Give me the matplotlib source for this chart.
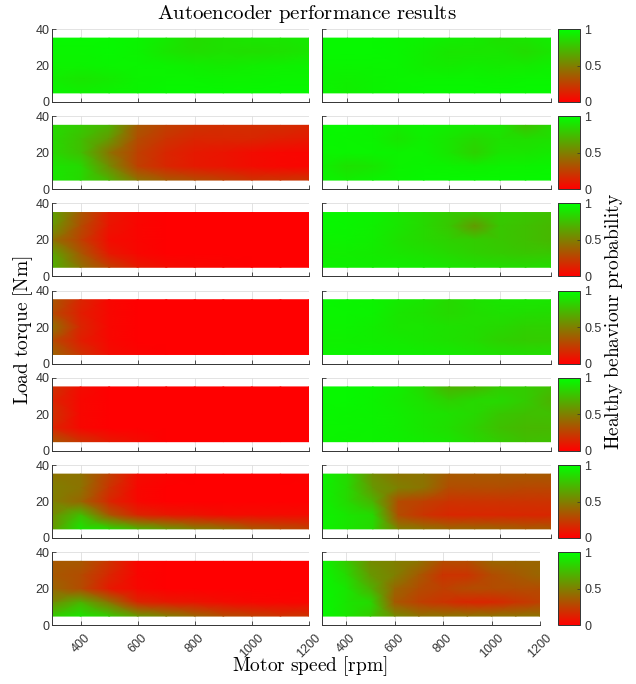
import numpy as np
import matplotlib
matplotlib.use("Agg")
import matplotlib.pyplot as plt
from matplotlib.colors import LinearSegmentedColormap

# ------------------------------------------------------------
# Autoencoder performance maps: healthy-behaviour probability
# over motor speed x load torque, 7 cases, 2 models each
# ------------------------------------------------------------

speed = [300, 400, 500, 600, 700, 800, 900, 1000, 1100, 1200]   # rpm
torque = [35, 27.5, 20, 12.5, 5]                                  # Nm, top row first

# each panel: rows follow `torque`, columns follow `speed`
p1_left = [
    [0.97, 0.97, 0.97, 0.96, 0.92, 0.86, 0.88, 0.90, 0.90, 0.92],
    [0.96, 0.96, 0.97, 0.95, 0.90, 0.87, 0.88, 0.87, 0.88, 0.90],
    [0.95, 0.95, 0.96, 0.96, 0.95, 0.93, 0.92, 0.93, 0.94, 0.95],
    [0.93, 0.90, 0.92, 0.95, 0.96, 0.96, 0.95, 0.95, 0.96, 0.96],
    [0.96, 0.94, 0.95, 0.96, 0.97, 0.97, 0.97, 0.97, 0.97, 0.97],
]
p1_right = [
    [0.97, 0.97, 0.97, 0.96, 0.95, 0.93, 0.92, 0.88, 0.90, 0.93],
    [0.97, 0.97, 0.97, 0.96, 0.93, 0.90, 0.90, 0.90, 0.86, 0.90],
    [0.96, 0.96, 0.96, 0.96, 0.93, 0.92, 0.93, 0.92, 0.92, 0.94],
    [0.95, 0.94, 0.95, 0.96, 0.96, 0.96, 0.96, 0.95, 0.96, 0.96],
    [0.96, 0.93, 0.95, 0.96, 0.97, 0.97, 0.97, 0.97, 0.97, 0.97],
]
p2_left = [
    [0.85, 0.80, 0.70, 0.35, 0.25, 0.20, 0.18, 0.18, 0.18, 0.15],
    [0.85, 0.75, 0.60, 0.30, 0.20, 0.15, 0.15, 0.15, 0.12, 0.10],
    [0.85, 0.75, 0.45, 0.25, 0.15, 0.10, 0.08, 0.05, 0.03, 0.02],
    [0.90, 0.85, 0.55, 0.25, 0.15, 0.10, 0.08, 0.05, 0.03, 0.02],
    [0.90, 0.85, 0.70, 0.45, 0.35, 0.30, 0.25, 0.20, 0.20, 0.20],
]
p2_right = [
    [0.97, 0.97, 0.95, 0.93, 0.95, 0.93, 0.92, 0.90, 0.75, 0.85],
    [0.97, 0.96, 0.95, 0.90, 0.94, 0.90, 0.85, 0.88, 0.87, 0.88],
    [0.96, 0.96, 0.96, 0.95, 0.95, 0.90, 0.82, 0.90, 0.90, 0.92],
    [0.94, 0.88, 0.90, 0.95, 0.96, 0.95, 0.94, 0.95, 0.95, 0.96],
    [0.96, 0.93, 0.95, 0.96, 0.97, 0.97, 0.97, 0.97, 0.97, 0.97],
]
p3_left = [
    [0.65, 0.35, 0.10, 0.03, 0.00, 0.00, 0.00, 0.00, 0.00, 0.00],
    [0.60, 0.30, 0.08, 0.02, 0.00, 0.00, 0.00, 0.00, 0.00, 0.00],
    [0.45, 0.25, 0.05, 0.02, 0.00, 0.00, 0.00, 0.00, 0.00, 0.00],
    [0.65, 0.35, 0.10, 0.03, 0.00, 0.00, 0.00, 0.00, 0.00, 0.00],
    [0.70, 0.45, 0.25, 0.10, 0.05, 0.03, 0.02, 0.00, 0.00, 0.00],
]
p3_right = [
    [0.97, 0.96, 0.95, 0.90, 0.85, 0.80, 0.78, 0.80, 0.78, 0.75],
    [0.97, 0.96, 0.94, 0.90, 0.85, 0.78, 0.60, 0.78, 0.75, 0.72],
    [0.95, 0.95, 0.93, 0.88, 0.85, 0.82, 0.80, 0.78, 0.75, 0.72],
    [0.93, 0.93, 0.92, 0.90, 0.88, 0.85, 0.82, 0.80, 0.78, 0.78],
    [0.95, 0.94, 0.93, 0.93, 0.92, 0.90, 0.88, 0.87, 0.86, 0.86],
]
p4_left = [
    [0.35, 0.15, 0.03, 0.00, 0.00, 0.00, 0.00, 0.00, 0.00, 0.00],
    [0.30, 0.12, 0.03, 0.00, 0.00, 0.00, 0.00, 0.00, 0.00, 0.00],
    [0.45, 0.15, 0.03, 0.00, 0.00, 0.00, 0.00, 0.00, 0.00, 0.00],
    [0.30, 0.12, 0.03, 0.00, 0.00, 0.00, 0.00, 0.00, 0.00, 0.00],
    [0.40, 0.20, 0.05, 0.02, 0.00, 0.00, 0.00, 0.00, 0.00, 0.00],
]
p4_right = [
    [0.97, 0.96, 0.95, 0.92, 0.90, 0.85, 0.88, 0.90, 0.90, 0.90],
    [0.96, 0.96, 0.95, 0.90, 0.88, 0.85, 0.87, 0.88, 0.87, 0.86],
    [0.95, 0.95, 0.93, 0.90, 0.90, 0.88, 0.87, 0.85, 0.82, 0.82],
    [0.94, 0.94, 0.93, 0.92, 0.90, 0.88, 0.86, 0.82, 0.80, 0.80],
    [0.95, 0.95, 0.95, 0.94, 0.93, 0.92, 0.90, 0.88, 0.87, 0.87],
]
p5_left = [
    [0.20, 0.05, 0.00, 0.00, 0.00, 0.00, 0.00, 0.00, 0.00, 0.00],
    [0.15, 0.03, 0.00, 0.00, 0.00, 0.00, 0.00, 0.00, 0.00, 0.00],
    [0.20, 0.03, 0.00, 0.00, 0.00, 0.00, 0.00, 0.00, 0.00, 0.00],
    [0.15, 0.03, 0.00, 0.00, 0.00, 0.00, 0.00, 0.00, 0.00, 0.00],
    [0.35, 0.20, 0.10, 0.05, 0.00, 0.00, 0.00, 0.00, 0.00, 0.00],
]
p5_right = [
    [0.97, 0.97, 0.96, 0.93, 0.85, 0.70, 0.72, 0.80, 0.80, 0.75],
    [0.97, 0.97, 0.95, 0.92, 0.88, 0.82, 0.85, 0.85, 0.80, 0.70],
    [0.97, 0.96, 0.95, 0.93, 0.90, 0.88, 0.85, 0.78, 0.75, 0.75],
    [0.96, 0.96, 0.95, 0.93, 0.90, 0.87, 0.82, 0.75, 0.72, 0.72],
    [0.96, 0.95, 0.95, 0.94, 0.92, 0.90, 0.85, 0.80, 0.75, 0.75],
]
p6_left = [
    [0.45, 0.45, 0.25, 0.05, 0.02, 0.00, 0.00, 0.00, 0.00, 0.02],
    [0.50, 0.45, 0.20, 0.03, 0.00, 0.00, 0.00, 0.00, 0.00, 0.00],
    [0.50, 0.40, 0.15, 0.03, 0.00, 0.00, 0.00, 0.00, 0.00, 0.00],
    [0.55, 0.75, 0.35, 0.15, 0.10, 0.08, 0.05, 0.05, 0.05, 0.05],
    [0.60, 0.90, 0.85, 0.70, 0.60, 0.50, 0.45, 0.35, 0.30, 0.25],
]
p6_right = [
    [0.95, 0.85, 0.55, 0.45, 0.45, 0.35, 0.35, 0.35, 0.35, 0.35],
    [0.95, 0.85, 0.60, 0.50, 0.45, 0.30, 0.30, 0.30, 0.28, 0.28],
    [0.95, 0.85, 0.70, 0.30, 0.25, 0.20, 0.20, 0.20, 0.20, 0.20],
    [0.95, 0.90, 0.85, 0.30, 0.20, 0.15, 0.15, 0.15, 0.15, 0.15],
    [0.95, 0.90, 0.85, 0.50, 0.45, 0.40, 0.40, 0.38, 0.35, 0.35],
]
p7_left = [
    [0.35, 0.35, 0.20, 0.02, 0.00, 0.00, 0.00, 0.00, 0.00, 0.00],
    [0.35, 0.30, 0.15, 0.02, 0.00, 0.00, 0.00, 0.00, 0.00, 0.00],
    [0.40, 0.30, 0.10, 0.03, 0.00, 0.00, 0.00, 0.00, 0.00, 0.00],
    [0.55, 0.70, 0.45, 0.15, 0.10, 0.08, 0.05, 0.03, 0.02, 0.02],
    [0.80, 0.90, 0.80, 0.60, 0.50, 0.40, 0.30, 0.25, 0.20, 0.20],
]
p7_right = [
    [0.97, 0.80, 0.55, 0.50, 0.45, 0.30, 0.30, 0.40, 0.40, 0.40],
    [0.97, 0.85, 0.60, 0.50, 0.35, 0.20, 0.20, 0.30, 0.35, 0.40],
    [0.97, 0.90, 0.70, 0.40, 0.30, 0.25, 0.30, 0.30, 0.30, 0.30],
    [0.97, 0.90, 0.85, 0.35, 0.25, 0.20, 0.15, 0.15, 0.20, 0.25],
    [0.97, 0.90, 0.80, 0.55, 0.45, 0.45, 0.45, 0.45, 0.45, 0.45],
]

left_panels = [p1_left, p2_left, p3_left, p4_left, p5_left, p6_left, p7_left]
right_panels = [p1_right, p2_right, p3_right, p4_right, p5_right, p6_right, p7_right]

x_ticks = [400, 600, 800, 1000, 1200]
y_ticks = [0, 20, 40]
cb_ticks = [0, 0.5, 1]
cb_labels = ["0", "0.5", "1"]

# red -> green, like the MATLAB custom map
cmap = LinearSegmentedColormap.from_list("red_green", [(1, 0, 0), (0, 1, 0)])

plt.rcParams["font.family"] = ["Liberation Sans", "DejaVu Sans"]
plt.rcParams["mathtext.fontset"] = "cm"

W, H = 636, 684
fig = plt.figure(figsize=(W / 100, H / 100), dpi=100)


def px_box(x0, top, w, h):
    """pixel box -> figure fraction [left, bottom, width, height]"""
    return [x0 / W, 1 - (top + h) / H, w / W, h / H]


def style_axes(ax, show_xlabels):
    ax.set_xlim(300, 1200)
    ax.set_ylim(0, 40)
    ax.set_xticks(x_ticks)
    ax.set_yticks(y_ticks)
    ax.grid(True, color="0.87", lw=0.6)
    ax.set_axisbelow(True)
    for side in ["top", "right"]:
        ax.spines[side].set_visible(False)
    for side in ["left", "bottom"]:
        ax.spines[side].set_color("0.2")
        ax.spines[side].set_linewidth(0.7)
    ax.tick_params(direction="in", length=3, width=0.6, color="0.2",
                   labelsize=9, labelcolor="0.2", pad=2)
    ax.tick_params(axis="x", pad=5)
    if show_xlabels:
        ax.set_xticklabels([str(t) for t in x_ticks], rotation=45, ha="center")
    else:
        ax.set_xticklabels([])


row_pitch = 87.2
for i in range(7):
    top = 29 + row_pitch * i
    last = i == 6

    axl = fig.add_axes(px_box(52, top, 257, 73))
    axl.pcolormesh(speed, torque, np.array(left_panels[i]), cmap=cmap,
                   vmin=0, vmax=1, shading="gouraud")
    style_axes(axl, last)

    right_w = 218 if last else 229
    axr = fig.add_axes(px_box(322, top, right_w, 73))
    mesh = axr.pcolormesh(speed, torque, np.array(right_panels[i]), cmap=cmap,
                          vmin=0, vmax=1, shading="gouraud")
    style_axes(axr, last)
    axr.set_yticklabels([])

    cax = fig.add_axes(px_box(558, top, 22, 73))
    cb = fig.colorbar(mesh, cax=cax, ticks=cb_ticks)
    cb.ax.set_yticklabels(cb_labels)
    cb.outline.set_edgecolor("0.2")
    cb.outline.set_linewidth(0.7)
    cb.ax.tick_params(direction="in", length=2, width=0.5, color="0.2",
                      labelsize=9, labelcolor="0.2", pad=3)

fig.text(0.482, 0.979, r"$\mathrm{Autoencoder\ performance\ results}$",
         ha="center", va="center", fontsize=15)
fig.text(0.487, 0.026, r"$\mathrm{Motor\ speed\ [rpm]}$",
         ha="center", va="center", fontsize=14)
fig.text(0.036, 0.517, r"$\mathrm{Load\ torque\ [Nm]}$",
         ha="center", va="center", rotation=90, fontsize=14)
fig.text(0.966, 0.53, r"$\mathrm{Healthy\ behaviour\ probability}$",
         ha="center", va="center", rotation=90, fontsize=14)

fig.savefig("out.png", dpi=100)
